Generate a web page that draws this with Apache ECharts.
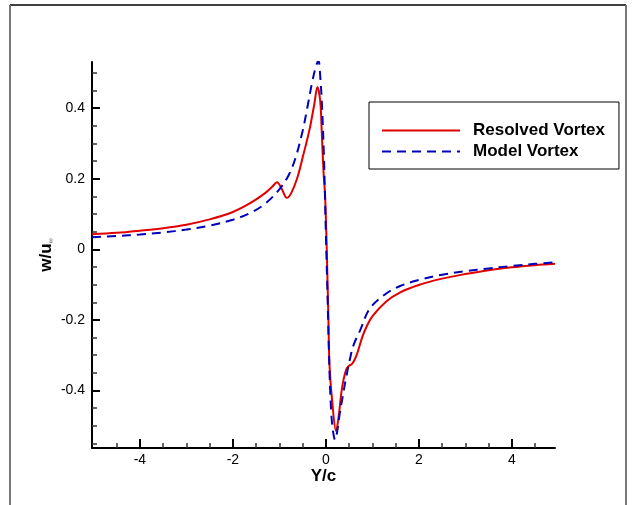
<!DOCTYPE html>
<html>
<head>
<meta charset="utf-8">
<script src="https://cdn.jsdelivr.net/npm/echarts@6/dist/echarts.min.js"></script>
<style>
  html, body { margin: 0; padding: 0; background: #fff; }
  #chart { width: 634px; height: 505px; }
</style>
</head>
<body>
<div id="chart"></div>
<script>
// Resolved vortex (solid red)
var resolvedX = [-5.03, -4.5, -4, -3.5, -3, -2.5, -2, -1.6, -1.3, -1.15, -1.05, -0.95, -0.84, -0.75, -0.62, -0.48, -0.35, -0.25, -0.18, -0.12, -0.09, -0.05, -0.015, 0.02, 0.056, 0.08, 0.14, 0.22, 0.28, 0.33, 0.38, 0.44, 0.5, 0.56, 0.63, 0.7, 0.78, 0.88, 1.0, 1.3, 1.6, 2.0, 2.5, 3.0, 3.5, 4.0, 4.5, 4.93];
var resolvedY = [0.043, 0.047, 0.053, 0.060, 0.070, 0.085, 0.106, 0.133, 0.160, 0.178, 0.190, 0.172, 0.146, 0.158, 0.200, 0.270, 0.340, 0.410, 0.460, 0.420, 0.340, 0.220, 0.150, 0.0, -0.200, -0.330, -0.435, -0.515, -0.470, -0.410, -0.370, -0.340, -0.330, -0.325, -0.310, -0.285, -0.250, -0.218, -0.190, -0.148, -0.122, -0.101, -0.083, -0.070, -0.059, -0.051, -0.045, -0.041];
// Model vortex (dashed blue)
var modelX = [-5.03, -4.5, -4, -3.5, -3, -2.5, -2, -1.6, -1.3, -1.0, -0.8, -0.65, -0.5, -0.4, -0.3, -0.22, -0.16, -0.12, -0.08, -0.04, 0, 0.04, 0.08, 0.12, 0.16, 0.2, 0.24, 0.3, 0.36, 0.42, 0.52, 0.6, 0.74, 0.95, 1.3, 1.6, 2.0, 2.5, 3.0, 3.5, 4.0, 4.5, 4.93];
var modelY = [0.034, 0.038, 0.042, 0.048, 0.056, 0.067, 0.084, 0.105, 0.130, 0.170, 0.210, 0.260, 0.335, 0.400, 0.470, 0.515, 0.535, 0.490, 0.400, 0.260, 0.050, -0.150, -0.350, -0.470, -0.520, -0.540, -0.520, -0.465, -0.420, -0.375, -0.310, -0.270, -0.229, -0.167, -0.125, -0.104, -0.087, -0.072, -0.062, -0.054, -0.047, -0.041, -0.037];

// ticks
var xMajorTicks = [-4, -2, 0, 2, 4];
var xMinorTicks = [-4.5, -3.5, -3, -2.5, -1.5, -1, -0.5, 0.5, 1, 1.5, 2.5, 3, 3.5, 4.5];
var yMajorTicks = [-0.4, -0.2, 0, 0.2, 0.4];
var yMinorTicks = [-0.55, -0.5, -0.45, -0.35, -0.3, -0.25, -0.15, -0.1, -0.05, 0.05, 0.1, 0.15, 0.25, 0.3, 0.35, 0.45, 0.5];

var xMin = -5.03, xMax = 4.93;
var yMin = -0.563, yMax = 0.531;

function pairs(xs, ys) {
	var out = [];
	for (var i = 0; i < xs.length; i++) {
		out.push([xs[i], ys[i]]);
	}
	return out;
}

var font = "'Liberation Sans', Arial, sans-serif";
var myChart = echarts.init(document.getElementById('chart'));

myChart.setOption({
	animation: false,
	backgroundColor: '#fff',
	textStyle: { fontFamily: font },
	grid: { left: 92, right: 79, top: 62, bottom: 57 },
	legend: {
		orient: 'vertical',
		left: 369,
		top: 102,
		align: 'left',
		backgroundColor: '#fff',
		borderColor: '#000',
		borderWidth: 1,
		borderRadius: 0,
		padding: [20, 14, 9, 12],
		itemWidth: 78,
		itemHeight: 14,
		itemGap: 4,
		itemStyle: { opacity: 0 },
		textStyle: {
			fontFamily: font,
			fontSize: 17,
			fontWeight: 'bold',
			color: '#000',
			padding: [0, 0, 0, 8]
		},
		data: ['Resolved Vortex', 'Model Vortex']
	},
	xAxis: [{
		type: 'value',
		min: xMin,
		max: xMax,
		name: 'Y/c',
		nameLocation: 'middle',
		nameGap: 20,
		nameMoveOverlap: false,
		nameTextStyle: { fontFamily: font, fontSize: 17, fontWeight: 'bold', color: '#000' },
		axisLine: { onZero: false, lineStyle: { color: '#000', width: 2 } },
		axisTick: { inside: true, length: 9, customValues: xMajorTicks, lineStyle: { color: '#000', width: 2 } },
		axisLabel: { customValues: xMajorTicks, margin: 5, fontSize: 14, color: '#000', fontFamily: font },
		splitLine: { show: false }
	}, {
		type: 'value',
		min: xMin,
		max: xMax,
		position: 'bottom',
		axisLine: { show: false, onZero: false },
		axisTick: { inside: true, length: 5, customValues: xMinorTicks, lineStyle: { color: '#333', width: 1.5 } },
		axisLabel: { show: false },
		splitLine: { show: false }
	}],
	yAxis: [{
		type: 'value',
		min: yMin,
		max: yMax,
		name: 'w/u{s|∞}',
		nameLocation: 'middle',
		nameGap: 37,
		nameMoveOverlap: false,
		nameTextStyle: {
			fontFamily: font, fontSize: 17, fontWeight: 'bold', color: '#000',
			rich: { s: { fontSize: 7, fontWeight: 'normal', color: '#555', verticalAlign: 'bottom', padding: [6, 0, 0, 0] } }
		},
		axisLine: { onZero: false, lineStyle: { color: '#000', width: 2 } },
		axisTick: { inside: true, length: 8, customValues: yMajorTicks, lineStyle: { color: '#000', width: 2 } },
		axisLabel: { customValues: yMajorTicks, margin: 7, fontSize: 14, color: '#000', fontFamily: font },
		splitLine: { show: false }
	}, {
		type: 'value',
		min: yMin,
		max: yMax,
		position: 'left',
		axisLine: { show: false, onZero: false },
		axisTick: { inside: true, length: 5, customValues: yMinorTicks, lineStyle: { color: '#333', width: 1.5 } },
		axisLabel: { show: false },
		splitLine: { show: false }
	}],
	series: [{
		name: 'Resolved Vortex',
		type: 'line',
		xAxisIndex: 0,
		yAxisIndex: 0,
		data: pairs(resolvedX, resolvedY),
		showSymbol: false,
		symbol: 'none',
		smooth: 0.35,
		clip: true,
		color: '#e00000',
		lineStyle: { color: '#e00000', width: 2 }
	}, {
		name: 'Model Vortex',
		type: 'line',
		xAxisIndex: 0,
		yAxisIndex: 0,
		data: pairs(modelX, modelY),
		showSymbol: false,
		symbol: 'none',
		smooth: 0.35,
		clip: true,
		color: '#0000bb',
		lineStyle: { color: '#0000bb', width: 2, type: [9, 6] }
	}],
	graphic: [
		// outer frame (top, left, right)
		{ type: 'line', shape: { x1: 10, y1: 5, x2: 626, y2: 5 }, style: { stroke: '#000', lineWidth: 1.5 } },
		{ type: 'line', shape: { x1: 10, y1: 5, x2: 10, y2: 505 }, style: { stroke: '#777', lineWidth: 2 } },
		{ type: 'line', shape: { x1: 626, y1: 5, x2: 626, y2: 505 }, style: { stroke: '#777', lineWidth: 2 } }
	]
});
</script>
</body>
</html>
